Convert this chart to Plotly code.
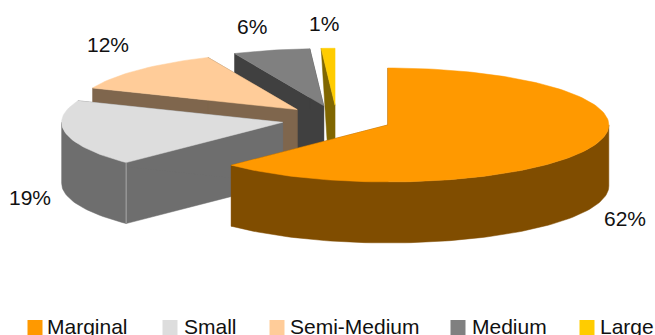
import math
import plotly.graph_objects as go

categories = ["Marginal", "Small", "Semi-Medium", "Medium", "Large"]
shares = [62.4, 18.6, 12.2, 5.6, 1.0]

top_colors = ["#FF9900", "#DDDDDD", "#FFCC99", "#808080", "#FFCC00"]
side_colors = ["#804D00", "#6E6E6E", "#7F664D", "#404040", "#806600"]

W, H = 655, 335
CX, CY, RX, RY = 336.8, 119.5, 221.0, 57.0
EXPLODE, DEPTH = 0.25, 61.0
FONT = "Liberation Sans, Arial, sans-serif"
FONT_SIZE = 21
TEXT = "#111111"

label_pos = [(624.5, 218), (29.5, 197), (107.5, 44), (251.5, 26), (324, 23)]
legend_square_x = [35, 170, 277, 458, 587]
legend_text_x = [47, 184, 290, 472, 600]
LEGEND_Y = 327.5
SQUARE = 15
DRAW_ORDER = [3, 4, 2, 1, 0]
TAPER = {4: 0.55}  # the thin slice's side face narrows towards its base


def point(apex, deg, k=1.0):
    t = math.radians(deg)
    return apex[0] + k * RX * math.sin(t), apex[1] - k * RY * math.cos(t)


def arc(apex, a0, a1):
    n = max(2, int(abs(a1 - a0) / 1.5) + 1)
    return [point(apex, a0 + (a1 - a0) * i / (n - 1)) for i in range(n)]


def poly(fig, pts, color):
    pts = list(pts) + [pts[0]]
    fig.add_trace(go.Scatter(
        x=[p[0] for p in pts], y=[p[1] for p in pts], mode="lines",
        fill="toself", fillcolor=color, line=dict(color=color, width=0.5),
        hoverinfo="skip", showlegend=False))


total = sum(shares)
slices = []
start = 0.0
for s in shares:
    end = start + 360.0 * s / total
    mid = math.radians((start + end) / 2)
    apex = (CX + EXPLODE * RX * math.sin(mid), CY - EXPLODE * RY * math.cos(mid))
    slices.append((start, end, apex))
    start = end

fig = go.Figure()
for i in DRAW_ORDER:
    a0, a1, apex = slices[i]
    dark = side_colors[i]
    bottom = apex[1] + DEPTH
    for deg in (a0, a1):
        if i == 4 and deg == a1:
            continue
        o = point(apex, deg)
        if i in TAPER:
            corner = (o[0] + TAPER[i] * (apex[0] - o[0]), bottom)
        else:
            corner = (o[0], o[1] + DEPTH)
        poly(fig, [o, apex, (apex[0], bottom), corner], dark)
    r0, r1 = max(a0, 90.0), min(a1, 270.0)
    if r1 > r0:
        rim = arc(apex, r0, r1)
        poly(fig, rim + [(x, y + DEPTH) for x, y in reversed(rim)], dark)
    poly(fig, [apex] + arc(apex, a0, a1), top_colors[i])

# light seam on the Small slice's front corner
sx, sy = point(slices[1][2], slices[1][0])
fig.add_trace(go.Scatter(x=[sx, sx], y=[sy, sy + DEPTH], mode="lines",
                         line=dict(color="#A8A8A8", width=1),
                         hoverinfo="skip", showlegend=False))

fig.add_trace(go.Scatter(
    x=legend_square_x, y=[LEGEND_Y] * 5, mode="markers",
    marker=dict(symbol="square", size=SQUARE, color=top_colors, line=dict(width=0)),
    hoverinfo="skip", showlegend=False, cliponaxis=False))

annotations = []
for s, (x, y) in zip(shares, label_pos):
    annotations.append(dict(x=x, y=y, text=f"{round(s)}%", showarrow=False,
                            xanchor="center", yanchor="middle",
                            font=dict(family=FONT, size=FONT_SIZE, color=TEXT)))
for name, x in zip(categories, legend_text_x):
    annotations.append(dict(x=x, y=LEGEND_Y - 1, text=name, showarrow=False,
                            xanchor="left", yanchor="middle", xshift=-2,
                            font=dict(family=FONT, size=FONT_SIZE, color=TEXT)))

fig.update_layout(
    width=W, height=H, margin=dict(l=0, r=0, t=0, b=0),
    paper_bgcolor="white", plot_bgcolor="white", showlegend=False,
    xaxis=dict(range=[0, W], visible=False, fixedrange=True),
    yaxis=dict(range=[H, 0], visible=False, fixedrange=True),
    annotations=annotations,
)
fig.write_html("out.html", config={"displayModeBar": False},
               post_script="document.body.style.margin='0';document.body.style.overflow='hidden';")
